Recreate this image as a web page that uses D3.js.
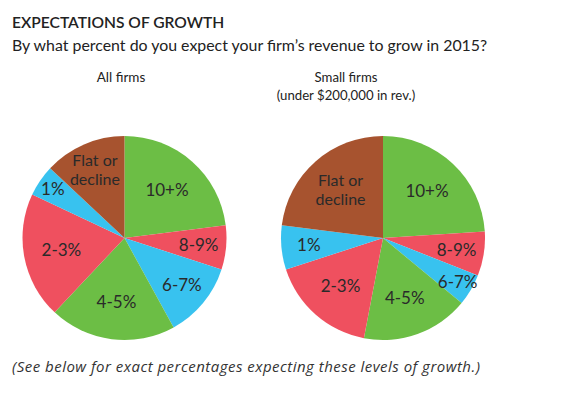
<!DOCTYPE html>
<html>
<head>
<meta charset="utf-8">
<script src="https://cdn.jsdelivr.net/npm/d3@7"></script>
<style>
  body { margin: 0; background: #fff; }
  svg { font-family: Lato, "Noto Sans", sans-serif; }
</style>
</head>
<body>
<div id="chart"></div>
<script>
// slice order, clockwise from 12 o'clock
var categories = ["10+%", "8-9%", "6-7%", "4-5%", "2-3%", "1%", "Flat or decline"];
var allFirms = [23, 7, 12, 20, 20, 5, 13];
var smallFirms = [24, 7, 5, 17, 17, 7, 23];
var sliceColors = ["#6cbe45", "#ef505f", "#38c2ef", "#6cbe45", "#ef505f", "#38c2ef", "#a7532f"];

var width = 563, height = 395;
var radius = 102;

var svg = d3.select("#chart")
  .append("svg")
  .attr("width", width)
  .attr("height", height);

svg.append("text")
  .attr("x", 12).attr("y", 28)
  .attr("font-size", 15.6)
  .attr("font-weight", 600)
  .attr("fill", "#222")
  .text("EXPECTATIONS OF GROWTH");

svg.append("text")
  .attr("x", 12).attr("y", 51)
  .attr("font-size", 15.9)
  .attr("fill", "#222")
  .text("By what percent do you expect your firm\u2019s revenue to grow in 2015?");

svg.append("text")
  .attr("x", 121).attr("y", 82)
  .attr("text-anchor", "middle")
  .attr("font-size", 13.5)
  .attr("fill", "#222")
  .text("All firms");

svg.append("text")
  .attr("x", 346).attr("y", 82)
  .attr("text-anchor", "middle")
  .attr("font-size", 13.2)
  .attr("fill", "#222")
  .text("Small firms");

svg.append("text")
  .attr("x", 346).attr("y", 100)
  .attr("text-anchor", "middle")
  .attr("font-size", 13.2)
  .attr("fill", "#222")
  .text("(under $200,000 in rev.)");

svg.append("text")
  .attr("x", 12).attr("y", 372)
  .attr("font-family", "'Open Sans', sans-serif")
  .attr("font-size", 15)
  .attr("font-style", "italic")
  .attr("textLength", 468)
  .attr("lengthAdjust", "spacing")
  .attr("fill", "#333")
  .text("(See below for exact percentages expecting these levels of growth.)");

var pie = d3.pie().sort(null).value(function(d) { return d; });
var arc = d3.arc().innerRadius(0).outerRadius(radius);

// small slices get their label pushed further out
function labelArc(v) {
  var f = v <= 5 ? 0.85 : (v < 15 ? 0.73 : 0.63);
  return d3.arc().innerRadius(radius * f).outerRadius(radius * f);
}

function drawPie(values, cx, cy) {
  var g = svg.append("g")
    .attr("transform", "translate(" + cx + "," + cy + ")");
  var arcs = pie(values);

  g.selectAll("path")
    .data(arcs)
    .enter().append("path")
    .attr("d", arc)
    .attr("fill", function(d, i) { return sliceColors[i]; });

  var labels = g.selectAll("text")
    .data(arcs)
    .enter().append("text")
    .attr("transform", function(d) {
      return "translate(" + labelArc(d.data).centroid(d) + ")";
    })
    .attr("text-anchor", "middle")
    .attr("font-size", function(d, i) { return categories[i] == "Flat or decline" ? 16 : 17; })
    .attr("fill", "#2a2a2a");

  labels.each(function(d, i) {
    var words = categories[i] == "Flat or decline" ? ["Flat or", "decline"] : [categories[i]];
    var t = d3.select(this);
    words.forEach(function(w, j) {
      t.append("tspan")
        .attr("x", 0)
        .attr("dy", j == 0 ? (words.length > 1 ? "-0.25em" : "0.35em") : "1.2em")
        .text(w);
    });
  });
}

drawPie(allFirms, 124.5, 238);
drawPie(smallFirms, 383, 238);
</script>
</body>
</html>
